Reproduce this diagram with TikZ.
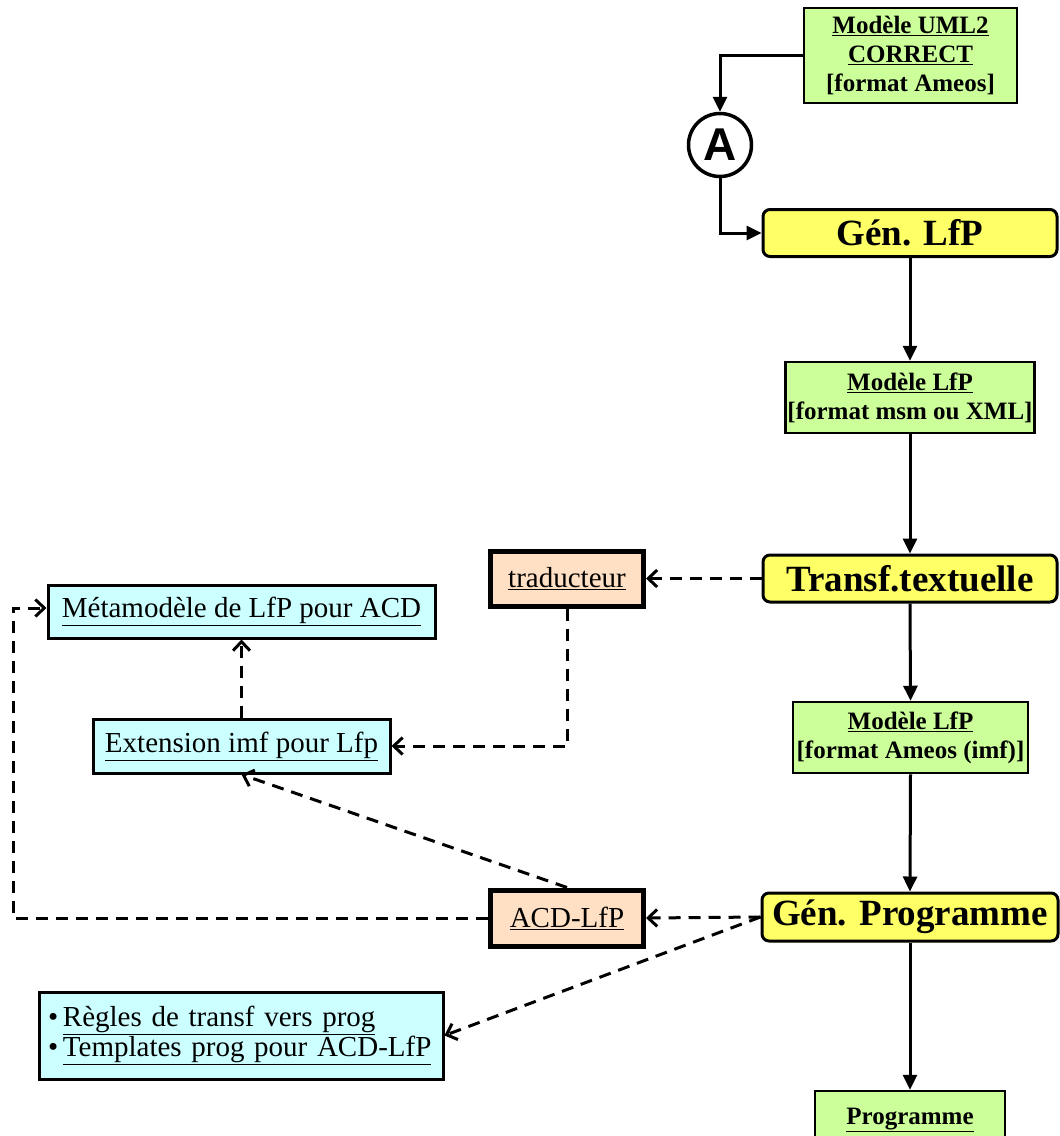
\documentclass[tikz,border=0pt]{standalone}
\usepackage{fontspec}
\setmainfont{Liberation Serif}
\newfontfamily\sansA{Liberation Sans}
\usetikzlibrary{arrows.meta,calc}
\definecolor{gfill}{HTML}{CCFF99}
\definecolor{yfill}{HTML}{FFFF66}
\definecolor{pfill}{HTML}{FFE0C4}
\definecolor{cfill}{HTML}{CCFFFF}
\tikzset{
  greenbox/.style={draw, fill=gfill, line width=2.5pt, inner sep=0pt, align=center,
    font=\bfseries\fontsize{25}{29}\selectfont},
  yellowbox/.style={draw, fill=yfill, line width=3pt, rounded corners=7pt, inner sep=0pt,
    minimum width=294pt, minimum height=47pt, font=\bfseries\fontsize{37}{40}\selectfont},
  peachbox/.style={draw, fill=pfill, line width=5pt, inner sep=0pt,
    minimum width=153pt, minimum height=55pt, font=\fontsize{29}{31}\selectfont},
  cyanbox/.style={draw, fill=cfill, line width=3pt, inner sep=0pt,
    font=\fontsize{29}{31}\selectfont},
  solidarrow/.style={line width=3pt, -{Triangle[length=15pt,width=14pt]}},
  dasharrow/.style={line width=3pt, dash pattern=on 12pt off 8pt,
    -{Straight Barb[length=9pt,width=17pt,line width=3pt]}},
}
\begin{document}
\begin{tikzpicture}[x=1pt,y=-1pt]
\clip (0,0) rectangle (1060,1136);
\fill[white] (0,0) rectangle (1060,1136);

% nodes
\node[greenbox, minimum width=213pt, minimum height=95pt] (uml) at (910.5,55.5)
  {\underline{Modèle UML2}\\\underline{CORRECT}\\{[}format Ameos{]}};
\node[draw, circle, line width=3.5pt, minimum size=63pt, inner sep=0pt,
  font=\sansA\bfseries\fontsize{46}{46}\selectfont] (A) at (720,145) {A};
\node[yellowbox] (gen1) at (910,233) {Gén. LfP};
\node[greenbox, minimum width=249pt, minimum height=71pt] (msm) at (910,397.5)
  {\underline{Modèle LfP}\\{[}format msm ou XML{]}};
\node[yellowbox] (transf) at (910,578.5) {Transf.textuelle};
\node[peachbox] (trad) at (567,578.5) {\underline{traducteur}};
\node[cyanbox, minimum width=387pt, minimum height=53pt] (meta) at (241.5,611.5)
  {\underline{Métamodèle de LfP pour ACD}};
\node[cyanbox, minimum width=297pt, minimum height=54pt] (ext) at (241.5,746)
  {\underline{Extension imf pour Lfp}};
\node[greenbox, minimum width=235pt, minimum height=71pt] (imf) at (910.5,737.5)
  {\underline{Modèle LfP}\\{[}format Ameos (imf){]}};
\node[yellowbox, minimum width=296pt, minimum height=48pt] (gen2) at (910,917) {Gén. Programme};
\node[peachbox, minimum height=56pt] (acd) at (567,918) {\underline{ACD-LfP}};
\node[cyanbox, minimum width=404pt, minimum height=87pt, text width=386pt, align=left,
  font=\fontsize{29}{30}\selectfont] (rules) at (241,1035.5)
  {\textbullet\,\underline{Règles de transf vers prog}\\
   \textbullet\,\underline{Templates prog pour ACD-LfP}};
\node[greenbox, minimum width=190pt, minimum height=58pt] (prog) at (910,1120)
  {\underline{Programme}};

% corner coordinates
\coordinate (cB) at (13,918);
\coordinate (cL) at (13,608);

% solid connectors
\draw[solidarrow] (uml.west) -| (A.north);
\draw[solidarrow] (A.south) |- (gen1.west);
\draw[solidarrow] (gen1.south) -- (msm.north);
\draw[solidarrow] (msm.south) -- (transf.north);
\draw[solidarrow] (transf.south) -- (imf.north);
\draw[solidarrow] (imf.south) -- (gen2.north);
\draw[solidarrow] (gen2.south) -- (prog.north);

% dashed connectors
\draw[dasharrow] (transf.west) -- (trad.east);
\draw[dasharrow] (trad.south) |- (ext.east);
\draw[dasharrow] (ext.north) -- (meta.south);
\draw[dasharrow] (acd.north) -- (ext.south);
\draw[dasharrow] (acd.west) -- (cB) -- (cL) -- (meta.west |- cL);
\draw[dasharrow] (gen2.west) -- (acd.east);
\draw[dasharrow] (gen2.west) -- (rules.east);
\end{tikzpicture}
\end{document}
